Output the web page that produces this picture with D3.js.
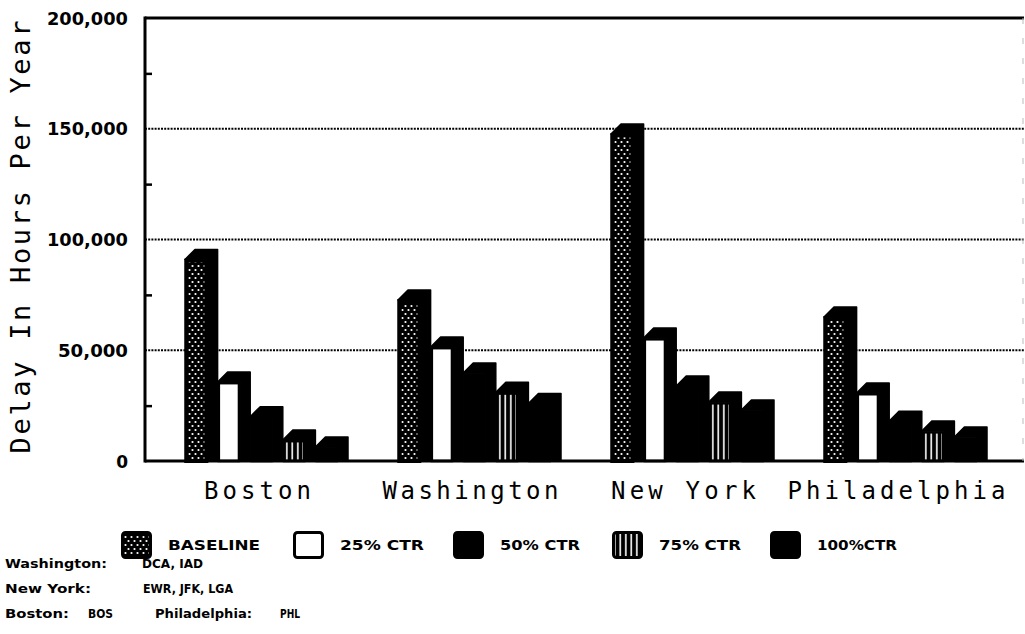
<!DOCTYPE html>
<html>
<head>
<meta charset="utf-8">
<script src="https://cdn.jsdelivr.net/npm/d3@7"></script>
<style>
  body { margin: 0; background: #fff; }
  svg { display: block; }
</style>
</head>
<body>
<div id="chartSection"></div>
<script>
var cities = ["Boston", "Washington", "New York", "Philadelphia"];
var series = ["BASELINE", "25% CTR", "50% CTR", "75% CTR", "100%CTR"];
var baseline = [91000, 72700, 147600, 65000];
var ctr25 = [35700, 51500, 55500, 30700];
var ctr50 = [20000, 39700, 33900, 18000];
var ctr75 = [9500, 31000, 26600, 13500];
var ctr100 = [6300, 26000, 23000, 10800];
var majorTicks = [0, 50000, 100000, 150000, 200000];
var minorTicks = [25000, 75000, 125000, 175000];
var notes = [
    [["Washington:", 5, 102], ["DCA, IAD", 142, 61]],
    [["New York:", 5, 86], ["EWR, JFK, LGA", 143, 90]],
    [["Boston:", 5, 64], ["BOS", 88, 25], ["Philadelphia:", 155, 97], ["PHL", 280, 20]]
];

function drawChart() {
    var values = [baseline, ctr25, ctr50, ctr75, ctr100];
    var fills = ["url(#dots)", "#fff", "#000", "url(#vlines)", "#000"];

    var width = 1025, height = 634;
    var plotLeft = 145, plotRight = 1024, plotTop = 18, plotBottom = 461;
    var depth = 10;

    var svg = d3.select("#chartSection").append("svg")
        .attr("width", width)
        .attr("height", height);

    var defs = svg.append("defs");
    var dots = defs.append("pattern").attr("id", "dots")
        .attr("patternUnits", "userSpaceOnUse")
        .attr("width", 6).attr("height", 8);
    dots.append("rect").attr("width", 6).attr("height", 8).attr("fill", "#000");
    dots.append("circle").attr("cx", 1.5).attr("cy", 2).attr("r", 1.1).attr("fill", "#fff");
    dots.append("circle").attr("cx", 4.5).attr("cy", 6).attr("r", 1.1).attr("fill", "#fff");

    var vl = defs.append("pattern").attr("id", "vlines")
        .attr("patternUnits", "userSpaceOnUse")
        .attr("width", 5.5).attr("height", 10);
    vl.append("rect").attr("width", 5.5).attr("height", 10).attr("fill", "#000");
    vl.append("rect").attr("x", 2).attr("width", 1.6).attr("height", 10).attr("fill", "#fff");

    var y = d3.scaleLinear().domain([0, 200000]).range([plotBottom, plotTop]);

    var x0 = d3.scaleBand().domain(cities)
        .range([185, 987])
        .paddingInner(50 / 213);
    var x1 = d3.scaleBand().domain(series).range([0, x0.bandwidth()]);
    var w = x1.bandwidth() - depth;

    // gridlines
    svg.append("g").selectAll("line")
        .data([50000, 100000, 150000])
        .enter().append("line")
        .attr("x1", plotLeft).attr("x2", plotRight)
        .attr("y1", d => y(d)).attr("y2", d => y(d))
        .attr("stroke", "#000").attr("stroke-width", 2)
        .attr("stroke-dasharray", "2,1.2");

    // y axis labels
    var yAxis = d3.axisLeft(y).tickValues(majorTicks).tickSize(0).tickPadding(17)
        .tickFormat(d3.format(","));
    var ya = svg.append("g").attr("transform", `translate(${plotLeft},0)`).call(yAxis);
    ya.select(".domain").remove();
    ya.selectAll("text")
        .style("font-family", "DejaVu Sans")
        .style("font-weight", "bold")
        .style("font-size", "17px")
        .attr("fill", "#000")
        .attr("dy", "0.36em")
        .each(function(d) {
            if (d > 0) d3.select(this).attr("textLength", d >= 100000 ? 81 : 70).attr("lengthAdjust", "spacingAndGlyphs");
        });

    // minor ticks pointing inward
    svg.append("g").attr("transform", `translate(${plotLeft},0)`)
        .call(d3.axisRight(y).tickValues(minorTicks).tickSize(7).tickFormat(""))
        .call(g => g.select(".domain").remove())
        .selectAll("line").attr("stroke-width", 2.5);

    // bars
    var groups = svg.append("g").selectAll("g")
        .data(cities)
        .enter().append("g")
        .attr("transform", d => `translate(${x0(d)},0)`);

    groups.each(function(city, ci) {
        var g = d3.select(this);
        series.forEach(function(s, si) {
            var v = values[si][ci];
            var bx = x1(s), by = y(v);
            var pts = [[bx, by], [bx + depth, by - depth], [bx + w + depth, by - depth],
                       [bx + w + depth, plotBottom], [bx + w, plotBottom], [bx + w, by]];
            g.append("polygon")
                .attr("points", pts.map(p => p.join(",")).join(" "))
                .attr("fill", "#000").attr("stroke", "#000").attr("stroke-width", 1.5)
                .attr("stroke-linejoin", "round");
            g.append("rect")
                .attr("x", bx + 1.25).attr("y", by + 1.25)
                .attr("width", w - 2.5).attr("height", plotBottom - by - 1.25)
                .attr("fill", fills[si])
                .attr("stroke", "#000").attr("stroke-width", si === 0 ? 4 : 2.5);
        });
    });

    // frame lines
    svg.append("line").attr("x1", plotLeft).attr("x2", plotRight).attr("y1", plotTop).attr("y2", plotTop)
        .attr("stroke", "#000").attr("stroke-width", 3);
    svg.append("line").attr("x1", plotLeft).attr("x2", plotRight).attr("y1", plotBottom).attr("y2", plotBottom)
        .attr("stroke", "#000").attr("stroke-width", 3);
    svg.append("line").attr("x1", plotLeft).attr("x2", plotLeft).attr("y1", plotTop - 1.5).attr("y2", plotBottom + 1.5)
        .attr("stroke", "#000").attr("stroke-width", 3);
    svg.append("line").attr("x1", 1023).attr("x2", 1023).attr("y1", plotTop).attr("y2", plotBottom)
        .attr("stroke", "#bbb").attr("stroke-width", 1).attr("stroke-dasharray", "6,14");

    // x labels
    var labelLen = {"Boston": 107, "Washington": 176, "New York": 145, "Philadelphia": 218};
    svg.append("g").selectAll("text")
        .data(cities)
        .enter().append("text")
        .attr("x", d => x0(d) + (x0.bandwidth() - depth) / 2 - 4)
        .attr("y", 499)
        .attr("text-anchor", "middle")
        .attr("textLength", d => labelLen[d])
        .attr("lengthAdjust", "spacing")
        .style("font-family", "DejaVu Sans Mono")
        .style("font-size", "24px")
        .text(d => d);

    // y title
    svg.append("text")
        .attr("transform", "translate(30,237) rotate(-90)")
        .attr("text-anchor", "middle")
        .attr("textLength", 433)
        .attr("lengthAdjust", "spacing")
        .style("font-family", "DejaVu Sans Mono")
        .style("font-size", "27px")
        .text("Delay In Hours Per Year");

    // legend
    var legendX = [121, 293, 453, 612, 770];
    var legendLen = [92, 84, 80, 82, 80];
    var lg = svg.append("g").selectAll("g")
        .data(series)
        .enter().append("g")
        .attr("transform", (d, i) => `translate(${legendX[i]},531)`);
    lg.append("rect")
        .attr("x", 1.5).attr("y", 1.5)
        .attr("width", 28).attr("height", 25).attr("rx", 3)
        .attr("fill", (d, i) => fills[i])
        .attr("stroke", "#000").attr("stroke-width", 3);
    lg.append("text")
        .attr("x", 47).attr("y", 19)
        .attr("textLength", (d, i) => legendLen[i])
        .attr("lengthAdjust", "spacingAndGlyphs")
        .style("font-family", "DejaVu Sans")
        .style("font-weight", "bold")
        .style("font-size", "14px")
        .text(d => d);

    // footnotes
    var noteG = svg.append("g");
    notes.forEach(function(line, li) {
        line.forEach(function(part) {
            noteG.append("text")
                .attr("x", part[1]).attr("y", 568 + li * 25)
                .attr("textLength", part[2])
                .attr("lengthAdjust", "spacingAndGlyphs")
                .style("font-family", "DejaVu Sans")
                .style("font-weight", "bold")
                .style("font-size", "13px")
                .text(part[0]);
        });
    });
}

drawChart();
</script>
</body>
</html>
